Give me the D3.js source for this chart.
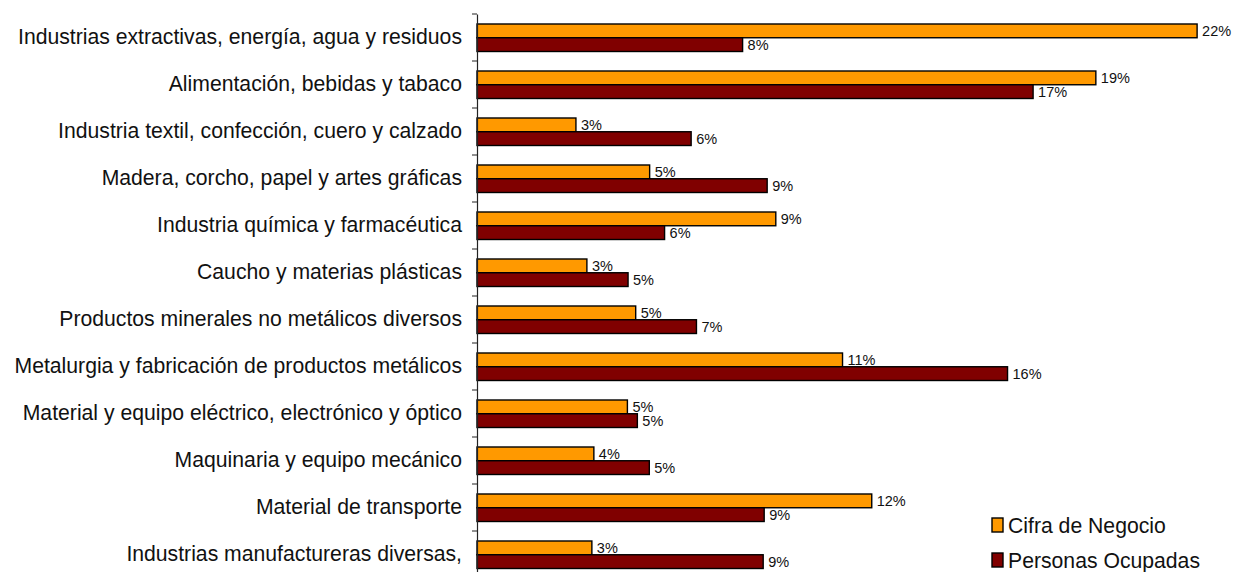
<!DOCTYPE html>
<html>
<head>
<meta charset="utf-8">
<script src="https://cdn.jsdelivr.net/npm/d3@7"></script>
<style>
  body { margin: 0; background: #fff; }
  text { font-family: "Liberation Sans", Arial, sans-serif; fill: #111; }
</style>
</head>
<body>
<svg id="chart" width="1235" height="572"></svg>
<script>

// DATA

var categories = [
  "Industrias extractivas, energía, agua y residuos",
  "Alimentación, bebidas y tabaco",
  "Industria textil, confección, cuero y calzado",
  "Madera, corcho, papel y artes gráficas",
  "Industria química y farmacéutica",
  "Caucho y materias plásticas",
  "Productos minerales no metálicos diversos",
  "Metalurgia y fabricación de productos metálicos",
  "Material y equipo eléctrico, electrónico y óptico",
  "Maquinaria y equipo mecánico",
  "Material de transporte",
  "Industrias manufactureras diversas,"
];

var series = ["Cifra de Negocio", "Personas Ocupadas"];

// percentages
var cifra = [21.69, 18.64, 2.98, 5.2, 9.0, 3.31, 4.78, 11.01, 4.53, 3.52, 11.89, 3.46];
var personas = [8.0, 16.75, 6.45, 8.74, 5.65, 4.55, 6.61, 15.98, 4.83, 5.19, 8.65, 8.62];

var colors = ["#ff9900", "#800000"];


// Global variables
var svg = d3.select("#chart");
var format = d3.format(".0f");
var axis_x = 477;
var top_y = 14;
var step = 47;

var rows = categories.map(function (c, i) {
  return { name: c, values: [cifra[i], personas[i]] };
});


// SCALES

var x = d3.scaleLinear()
  .domain([0, 25])
  .range([axis_x, axis_x + 25 * 33.2]);

var y = d3.scaleBand()
  .domain(categories)
  .range([top_y, top_y + step * categories.length])
  .padding(0);

var y_inner = d3.scaleBand()
  .domain(series)
  .range([10, 37.5]);


// BARS

var groups = svg.selectAll(".group")
  .data(rows).enter()
  .append("g")
  .attr("class", "group")
  .attr("transform", function (d) { return "translate(0," + y(d.name) + ")"; });

groups.selectAll("rect")
  .data(function (d) { return d.values.map(function (v, j) { return { s: series[j], v: v, j: j }; }); })
  .enter()
  .append("rect")
  .attr("x", x(0))
  .attr("y", function (d) { return y_inner(d.s); })
  .attr("width", function (d) { return x(d.v) - x(0); })
  .attr("height", y_inner.bandwidth())
  .attr("fill", function (d) { return colors[d.j]; })
  .attr("stroke", "#000")
  .attr("stroke-width", 1.4);

// Value labels
groups.selectAll(".val")
  .data(function (d) { return d.values.map(function (v, j) { return { s: series[j], v: v }; }); })
  .enter()
  .append("text")
  .attr("class", "val")
  .attr("x", function (d) { return x(d.v) + 5; })
  .attr("y", function (d) { return y_inner(d.s) + y_inner.bandwidth() / 2; })
  .attr("dy", "0.36em")
  .style("font-size", "14.5px")
  .text(function (d) { return format(d.v) + "%"; });


// AXIS

var axis = svg.append("g")
  .attr("transform", "translate(" + axis_x + ",0)")
  .call(d3.axisLeft(y).tickSize(0).tickPadding(15));

axis.select(".domain").attr("stroke", "#222").attr("stroke-width", 1.2);
axis.selectAll(".tick text")
  .style("font-size", "21.2px")
  .style("font-family", "'Liberation Sans', Arial, sans-serif")
  .attr("fill", "#111");

// ticks sit on the band boundaries, not the centres
axis.selectAll(".bound")
  .data(categories).enter()
  .append("line")
  .attr("class", "bound")
  .attr("x1", -5).attr("x2", 0)
  .attr("y1", function (d) { return y(d); })
  .attr("y2", function (d) { return y(d); })
  .attr("stroke", "#222");


// LEGEND

var legend = svg.selectAll(".legend")
  .data(series).enter()
  .append("g")
  .attr("class", "legend")
  .attr("transform", function (d, i) { return "translate(992," + (525 + i * 35) + ")"; });

legend.append("rect")
  .attr("x", 0).attr("y", -7)
  .attr("width", 11).attr("height", 14)
  .attr("fill", function (d, i) { return colors[i]; })
  .attr("stroke", "#000")
  .attr("stroke-width", 1.4);

legend.append("text")
  .attr("x", 16)
  .attr("dy", "0.36em")
  .style("font-size", "21.2px")
  .text(function (d) { return d; });

</script>
</body>
</html>
